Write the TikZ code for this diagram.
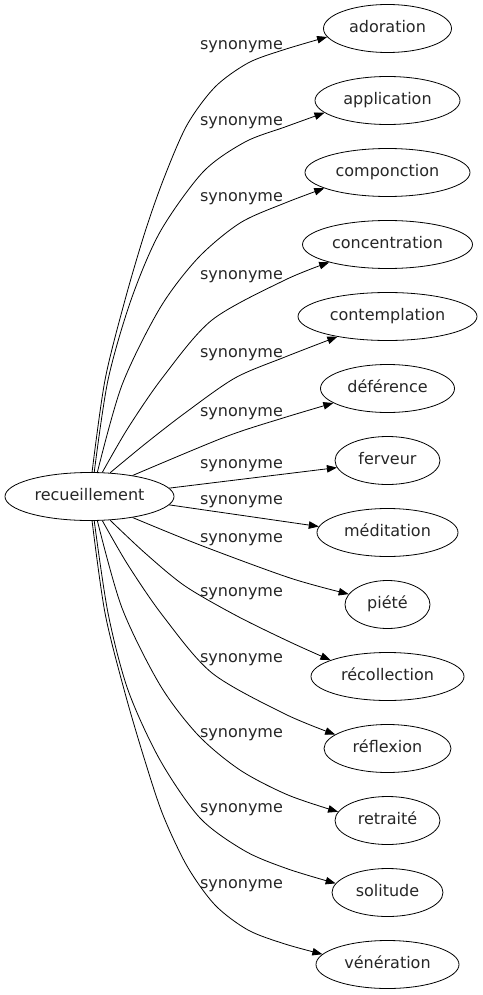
\documentclass[tikz,border=0pt]{standalone}
\usepackage{fontspec}
\setmainfont{DejaVu Sans}
\usetikzlibrary{arrows.meta,shapes.geometric}
\begin{document}
\begin{tikzpicture}[x=1pt,y=-1pt,
  every node/.style={font=\fontsize{16}{19}\selectfont, text height=11.5pt, text depth=3.5pt, inner sep=0pt, text=black!85},
  term/.style={draw, ellipse, line width=0.8pt, minimum height=48pt},
  rel/.style={},
  link/.style={line width=0.8pt, -{Triangle[length=10pt,width=7.5pt]}},
  sm/.style={smooth, tension=0.5}]
\useasboundingbox (0,0) rectangle (482,995);
% source
\node[term, minimum width=169pt] (src) at (89.5,496.5) {recueillement};
% targets
\node[term, minimum width=128pt] (t1)  at (387.5,28.5)  {adoration};
\node[term, minimum width=145pt] (t2)  at (387.5,100.5) {application};
\node[term, minimum width=165pt] (t3)  at (387.5,172.5) {componction};
\node[term, minimum width=170pt] (t4)  at (387.5,244.5) {concentration};
\node[term, minimum width=179pt] (t5)  at (387.5,316.5) {contemplation};
\node[term, minimum width=134pt] (t6)  at (387.5,388.5) {déférence};
\node[term, minimum width=105pt] (t7)  at (387.5,460.5) {ferveur};
\node[term, minimum width=141pt] (t8)  at (387.5,532.5) {méditation};
\node[term, minimum width=85pt]  (t9)  at (387.5,604.5) {piété};
\node[term, minimum width=153pt] (t10) at (387.5,676.5) {récollection};
\node[term, minimum width=127pt] (t11) at (387.5,748.5) {réflexion};
\node[term, minimum width=105pt] (t12) at (387.5,820.5) {retraité};
\node[term, minimum width=111pt] (t13) at (387.5,892.5) {solitude};
\node[term, minimum width=143pt] (t14) at (387.5,964.5) {vénération};
% labels
\node[rel] (l1)  at (241.5,46)  {synonyme};
\node[rel] (l2)  at (241.5,122) {synonyme};
\node[rel] (l3)  at (241.5,197) {synonyme};
\node[rel] (l4)  at (241.5,275) {synonyme};
\node[rel] (l5)  at (241.5,353) {synonyme};
\node[rel] (l6)  at (241.5,412) {synonyme};
\node[rel] (l7)  at (241.5,464) {synonyme};
\node[rel] (l8)  at (241.5,500) {synonyme};
\node[rel] (l9)  at (241.5,538) {synonyme};
\node[rel] (l10) at (241.5,592) {synonyme};
\node[rel] (l11) at (241.5,658) {synonyme};
\node[rel] (l12) at (241.5,733) {synonyme};
\node[rel] (l13) at (241.5,808) {synonyme};
\node[rel] (l14) at (241.5,884) {synonyme};
% edges
\draw[link] plot[sm] coordinates {(src.84) (105,380) (125,300) (145,232) (164,178) (187,125) (215,87) (248,63) (283,50) (t1.188.6)};
\draw[link] plot[sm] coordinates {(src.79) (108,380) (131,300) (160,232) (203,172) (245,142) (285,127) (t2.191.5)};
\draw[link] plot[sm] coordinates {(src.72.6) (122,385) (160,308) (198,258) (240,223) (285,203) (t3.194)};
\draw[link] plot[sm] coordinates {(src.62) (128,428) (163,377) (212,320) (285,280) (t4.197)};
\draw[link] plot[sm] coordinates {(src.49) (145,444) (185,413) (235,378) (285,357) (t5.202.5)};
\draw[link] plot[sm] coordinates {(src.26) (225,437) (283,418) (t6.195)};
\draw[link] (src.6) -- (t7.188.5);
\draw[link] (src.-6) -- (t8.175.5);
\draw[link] plot[sm] coordinates {(src.-26) (200,545) (290,578) (t9.165.8)};
\draw[link] plot[sm] coordinates {(src.-49) (145,553) (185,586) (237,616) (290,642) (t10.164)};
\draw[link] plot[sm] coordinates {(src.-62) (128,565) (163,616) (212,673) (285,714) (t11.165.6)};
\draw[link] plot[sm] coordinates {(src.-72.6) (122,608) (160,685) (198,735) (240,770) (288,795) (t12.170)};
\draw[link] plot[sm] coordinates {(src.-79) (108,613) (128,690) (160,760) (200,818) (245,851) (288,869) (t13.170)};
\draw[link] plot[sm] coordinates {(src.-84) (105,613) (125,693) (145,761) (163,815) (187,866) (215,905) (248,930) (285,944) (t14.171.7)};
\end{tikzpicture}
\end{document}
